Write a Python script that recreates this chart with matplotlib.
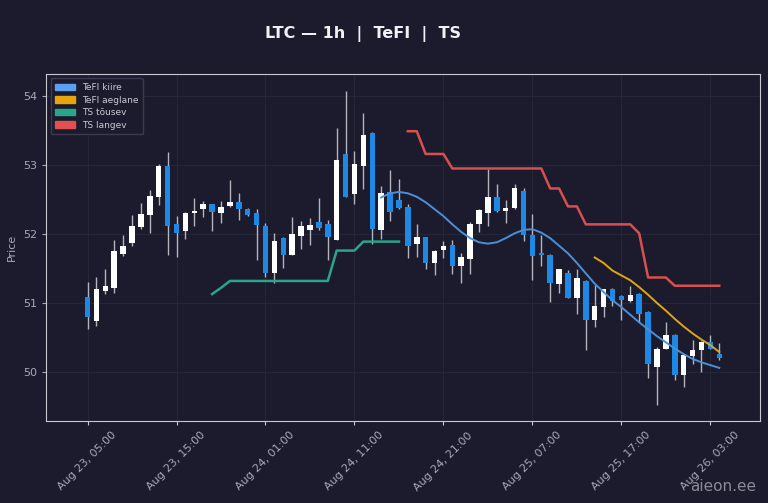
import pandas as pd
import matplotlib
matplotlib.use('Agg')
import matplotlib.pyplot as plt
import matplotlib.dates as mdates
from matplotlib.patches import Patch

# Hourly candles, Aug 23 05:00 -> Aug 26 04:00
start = '2025-08-23 05:00'
opens = [51.09, 50.74, 51.18, 51.22, 51.71, 51.87, 52.10, 52.28, 52.53, 52.99,
         52.14, 52.05, 52.30, 52.36, 52.43, 52.30, 52.40, 52.47, 52.36, 52.30,
         52.12, 51.43, 51.94, 51.70, 51.97, 52.06, 52.17, 52.14, 51.92, 53.16,
         52.58, 52.99, 53.47, 52.06, 52.61, 52.50, 52.39, 51.85, 51.95, 51.58,
         51.77, 51.84, 51.54, 51.64, 52.14, 52.31, 52.53, 52.33, 52.37, 52.62,
         51.99, 51.73, 51.70, 51.28, 51.43, 51.08, 51.32, 50.75, 50.94, 51.21,
         51.10, 51.03, 51.13, 50.87, 50.08, 50.34, 50.54, 49.95, 50.23, 50.32,
         50.43, 50.26]
closes = [50.80, 51.20, 51.24, 51.75, 51.83, 52.11, 52.29, 52.55, 52.98, 52.11,
          52.01, 52.30, 52.34, 52.43, 52.32, 52.39, 52.46, 52.36, 52.27, 52.13,
          51.43, 51.90, 51.69, 52.00, 52.11, 52.13, 52.09, 51.95, 53.08, 52.54,
          53.01, 53.44, 52.07, 52.60, 52.32, 52.37, 51.82, 51.95, 51.58, 51.76,
          51.83, 51.54, 51.66, 52.14, 52.35, 52.53, 52.33, 52.37, 52.67, 51.99,
          51.68, 51.70, 51.29, 51.49, 51.08, 51.36, 50.76, 50.96, 51.20, 51.03,
          51.04, 51.12, 50.84, 50.12, 50.34, 50.54, 49.96, 50.25, 50.32, 50.44,
          50.34, 50.20]
highs = [51.30, 51.37, 51.49, 51.91, 51.98, 52.28, 52.45, 52.64, 53.02, 53.19,
         52.26, 52.32, 52.52, 52.48, 52.44, 52.48, 52.78, 52.60, 52.38, 52.36,
         52.16, 52.01, 51.95, 52.25, 52.19, 52.23, 52.52, 52.20, 53.53, 54.07,
         53.21, 53.75, 53.48, 52.70, 52.93, 52.80, 52.44, 52.14, 51.96, 51.77,
         51.90, 51.91, 51.73, 52.18, 52.36, 52.94, 52.73, 52.50, 52.72, 52.66,
         52.29, 51.99, 51.71, 51.50, 51.48, 51.49, 51.33, 51.26, 51.21, 51.22,
         51.11, 51.24, 51.14, 50.88, 50.36, 50.73, 50.55, 50.26, 50.47, 50.45,
         50.54, 50.42]
lows = [50.63, 50.67, 51.13, 51.14, 51.68, 51.82, 52.07, 52.02, 52.42, 51.70,
        51.67, 51.93, 52.12, 52.25, 52.05, 52.16, 52.39, 52.20, 52.26, 51.63,
        51.37, 51.29, 51.51, 51.69, 51.79, 51.84, 52.06, 51.62, 51.92, 52.53,
        52.44, 52.65, 51.85, 51.93, 52.19, 52.36, 51.65, 51.66, 51.50, 51.41,
        51.65, 51.42, 51.29, 51.42, 52.03, 52.11, 52.32, 52.16, 52.36, 51.90,
        51.33, 51.54, 51.02, 51.14, 51.08, 50.84, 50.32, 50.65, 50.80, 50.96,
        50.75, 51.02, 50.73, 49.92, 49.52, 50.33, 49.88, 49.79, 50.11, 50.00,
        50.33, 50.18]

# TeFI fast line (from candle 33)
kiire_start = 33
kiire = [52.53, 52.59, 52.61, 52.59, 52.54, 52.46, 52.36, 52.26, 52.14, 52.03,
         51.94, 51.88, 51.86, 51.88, 51.94, 52.01, 52.06, 52.07, 52.02, 51.94,
         51.83, 51.72, 51.58, 51.43, 51.28, 51.16, 51.04, 50.94, 50.83, 50.72,
         50.62, 50.52, 50.43, 50.34, 50.26, 50.19, 50.14, 50.10, 50.06]

# TeFI slow line (from candle 57)
aeglane_start = 57
aeglane = [51.66, 51.58, 51.47, 51.40, 51.33, 51.23, 51.12, 51.00, 50.89, 50.77,
           50.66, 50.56, 50.47, 50.39, 50.29]

# TS rising (from candle 14)
tousev_start = 14
tousev = [51.13, 51.22, 51.32, 51.32, 51.32, 51.32, 51.32, 51.32, 51.32, 51.32,
          51.32, 51.32, 51.32, 51.32, 51.76, 51.76, 51.76, 51.89, 51.89, 51.89,
          51.89, 51.89]

# TS falling (from candle 36)
langev_start = 36
langev = [53.49, 53.49, 53.16, 53.16, 53.16, 52.95, 52.95, 52.95, 52.95, 52.95,
          52.95, 52.95, 52.95, 52.95, 52.95, 52.95, 52.66, 52.66, 52.40, 52.40,
          52.14, 52.14, 52.14, 52.14, 52.14, 52.14, 52.01, 51.37, 51.37, 51.37,
          51.25, 51.25, 51.25, 51.25, 51.25, 51.25]

tick_times = ['2025-08-23 05:00', '2025-08-23 15:00', '2025-08-24 01:00', '2025-08-24 11:00',
              '2025-08-24 21:00', '2025-08-25 07:00', '2025-08-25 17:00', '2025-08-26 03:00']

BG = '#1b1b2d'
UP = '#ffffff'
DOWN = '#1e88e5'
WICK = '#b4b4bc'
TXT = '#a8a8b8'

times = pd.date_range(start, periods=len(opens), freq='h')
x = mdates.date2num(times)

fig = plt.figure(figsize=(7.68, 5.03), dpi=100)
fig.patch.set_facecolor(BG)
ax = fig.add_axes([0.0599, 0.163, 0.9297, 0.690])
ax.set_facecolor(BG)

# Candles
w = 0.62 / 24
for xi, o, h, l, c in zip(x, opens, highs, lows, closes):
    col = UP if c >= o else DOWN
    ax.vlines(xi, l, h, color=WICK, linewidth=1, zorder=2)
    ax.bar(xi, abs(c - o), width=w, bottom=min(o, c), color=col, linewidth=0, zorder=3)

# Indicator lines
ax.plot(x[kiire_start:kiire_start + len(kiire)], kiire, color='#4a90d9', linewidth=1.4, zorder=4)
ax.plot(x[aeglane_start:aeglane_start + len(aeglane)], aeglane, color='#e0a516', linewidth=1.4, zorder=4)
ax.plot(x[tousev_start:tousev_start + len(tousev)], tousev, color='#2aa58a', linewidth=1.8, zorder=4)
ax.plot(x[langev_start:langev_start + len(langev)], langev, color='#d94f4f', linewidth=1.8, zorder=4)

ax.set_xlim(x[0] - 4.67 / 24, x[0] + 75.58 / 24)
ax.set_ylim(49.29, 54.32)
ax.set_yticks([50, 51, 52, 53, 54])
ax.set_xticks(mdates.date2num(pd.to_datetime(tick_times)))
ax.xaxis.set_major_formatter(mdates.DateFormatter('%b %d, %H:%M'))
plt.setp(ax.get_xticklabels(), rotation=45, ha='center')

ax.grid(True, color='#262739', linewidth=0.7)
ax.set_axisbelow(True)
for s in ax.spines.values():
    s.set_color('#c8c8d2')
ax.tick_params(colors=TXT, labelsize=8, length=3)
ax.tick_params(axis='x', colors='#c8c8d2', labelcolor=TXT)
ax.set_ylabel('Price', color=TXT, fontsize=8)

handles = [Patch(color='#5aa0ee', label='TeFI kiire'),
           Patch(color='#e6a40e', label='TeFI aeglane'),
           Patch(color='#2aa58a', label='TS tõusev'),
           Patch(color='#e05050', label='TS langev')]
leg = ax.legend(handles=handles, loc='upper left', fontsize=6.5, facecolor=BG,
                edgecolor='#3a3b50', labelcolor='#c8c8d2', framealpha=1,
                handlelength=2.2, borderpad=0.5, labelspacing=0.4)

fig.text(0.473, 0.933, 'LTC — 1h  |  TeFI  |  TS', ha='center', va='center',
         color='#f0f0f5', fontsize=11.5, fontweight='bold')
fig.text(0.985, 0.032, 'aieon.ee', ha='right', va='center', color='#8a8a98', fontsize=11)

fig.savefig('out.png', dpi=100, facecolor=BG)
